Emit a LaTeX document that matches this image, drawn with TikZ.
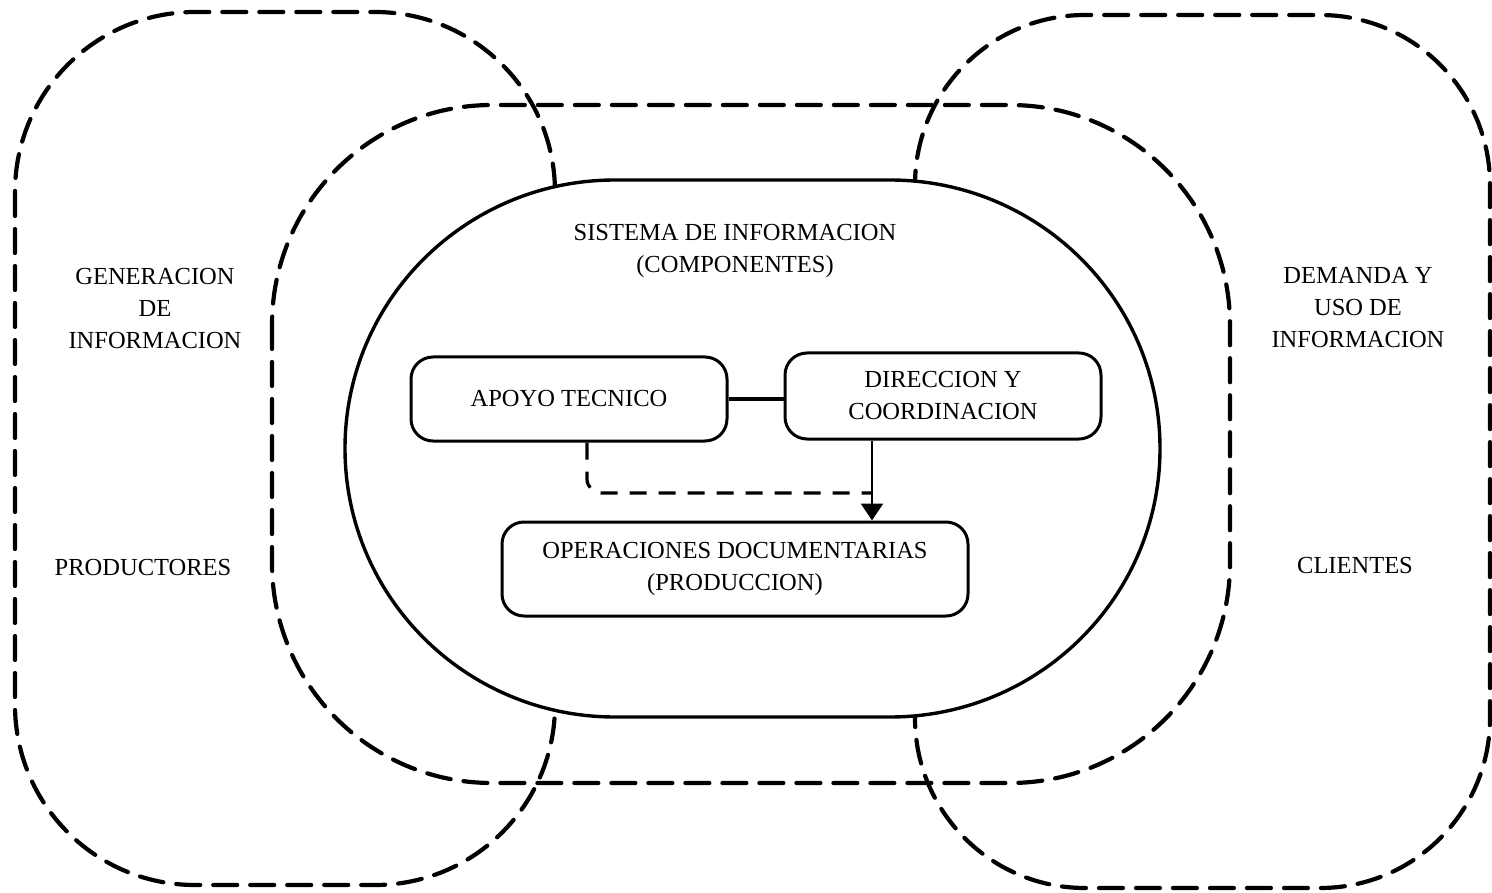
\documentclass[tikz,border=0pt]{standalone}
\usepackage{fontspec}
\setmainfont{Liberation Serif}
\usetikzlibrary{arrows.meta}
\tikzset{
  outerdash/.style={line width=4.2pt, dash pattern=on 24pt off 13pt, line cap=round},
  corebox/.style={line width=3.4pt, fill=white},
  compbox/.style={draw, line width=3pt, rounded corners=22pt, align=center, inner sep=0pt},
  lbl/.style={align=center, inner sep=0pt},
  dashlink/.style={line width=3.2pt, dash pattern=on 17pt off 12pt, rounded corners=14pt},
  solidlink/.style={line width=2.6pt},
}
\begin{document}
\begin{tikzpicture}[x=1pt, y=-1pt, font=\fontsize{24.5}{32}\selectfont]
\useasboundingbox (0,0) rectangle (1492,893);
% outer dashed regions
\draw[outerdash, rounded corners=180pt] (15,12) rectangle (555,885);
\draw[outerdash, rounded corners=170pt] (915,15) rectangle (1490,888);
\draw[outerdash, rounded corners=220pt] (272,105) rectangle (1230,783);
% central system (solid)
\draw[corebox] (615,180) -- (890,180)
  arc[start angle=-90, end angle=90, x radius=270, y radius=268.5]
  -- (615,717)
  arc[start angle=90, end angle=270, x radius=270, y radius=268.5] -- cycle;
% labels
\node[lbl] (sis) at (735,251) {SISTEMA DE INFORMACION\\(COMPONENTES)};
\node[lbl] (gen) at (155,309) {GENERACION\\DE\\INFORMACION};
\node[lbl] (prod) at (143,568) {PRODUCTORES};
\node[lbl] (dem) at (1358,308) {DEMANDA Y\\USO DE\\INFORMACION};
\node[lbl] (cli) at (1355,566) {CLIENTES};
% component boxes
\node[compbox, minimum width=316pt, minimum height=84pt] (apoyo) at (569,399) {APOYO TECNICO};
\node[compbox, minimum width=316pt, minimum height=86pt] (direccion) at (943,396) {DIRECCION Y\\COORDINACION};
\node[compbox, minimum width=466pt, minimum height=94pt] (oper) at (735,569) {OPERACIONES DOCUMENTARIAS\\(PRODUCCION)};
% connectors
\coordinate (j) at (872,493);
\coordinate (a) at (587,493);
\draw[line width=4pt] (apoyo.east) -- (apoyo.east -| direccion.west);
\draw[dashlink] (apoyo.south -| a) -- (a) -- (j);
\draw[solidlink, -{Triangle[length=17pt,width=22pt]}] (direccion.south -| j) -- (oper.north -| j);
\end{tikzpicture}
\end{document}
